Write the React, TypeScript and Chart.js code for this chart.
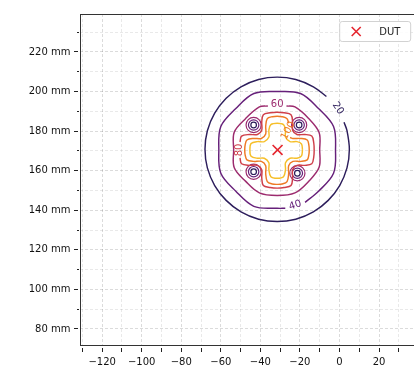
import React, { useEffect, useRef } from 'react';
import { Chart, registerables } from 'chart.js';

Chart.register(...registerables);

// ---------- axis ranges and tick labels ----------
const X_MIN = -131.2;
const X_MAX = 39.3;
const Y_MIN = 71.4;
const Y_MAX = 239.2;
const X_LABEL_VALUES = [-120, -100, -80, -60, -40, -20, 0, 20];
const Y_LABEL_VALUES = [80, 100, 120, 140, 160, 180, 200, 220];

// ---------- DUT position ----------
const DUT_POS = [[-31.3, 170.5]];

// ---------- contour lines (x mm, y mm) ----------
const CONTOUR_20 = [
  [-6.6, 197.5], [-13.2, 202.4], [-22.1, 206.1], [-31.5, 207.3], [-40.9, 206.1],
  [-49.8, 202.4], [-57.3, 196.6], [-63.1, 189.1], [-66.8, 180.2], [-68, 170.8],
  [-66.8, 161.4], [-63.1, 152.5], [-57.3, 145], [-49.8, 139.2], [-40.9, 135.5],
  [-31.5, 134.3], [-22.1, 135.5], [-13.2, 139.2], [-5.7, 145], [0.1, 152.5],
  [3.8, 161.4], [5, 170.8], [3.8, 180.2], [2.3, 184.5],
];
const CONTOUR_40 = [
  [-17.4, 144], [-10.6, 149.6], [-3, 158.7], [-2, 170.5], [-3, 182.3],
  [-10.6, 191.4], [-19.7, 199], [-31.5, 200], [-43.3, 199], [-52.4, 191.4],
  [-60, 182.3], [-61, 170.5], [-60, 158.7], [-52.4, 149.6], [-43.3, 142],
  [-31.5, 141], [-27.4, 141],
];
const CONTOUR_60 = [
  [-36.2, 192.7], [-40.5, 192.2], [-47.4, 186.4], [-53.2, 179.5], [-53.5, 170.5],
  [-53.2, 161.5], [-47.4, 154.6], [-40.5, 148.8], [-31.5, 147.5], [-22.5, 148.8],
  [-15.6, 154.6], [-10.3, 161.7], [-10, 170.5], [-10.3, 179.3], [-15.6, 186.4],
  [-22.5, 192.2], [-26.8, 192.7],
];
const CONTOUR_80 = [
  [-50.3, 166.5], [-49.5, 163.5], [-45.5, 162.7], [-41.5, 162.7], [-39.3, 160.5],
  [-39.3, 156.5], [-38.5, 152.5], [-35, 151.5], [-31.5, 151.2], [-28, 151.5],
  [-24.5, 152.5], [-23.7, 156.5], [-23.7, 160.5], [-21.5, 162.7], [-17.5, 162.7],
  [-14, 163.5], [-13, 167], [-12.8, 170.5], [-13, 174], [-14, 177.5],
  [-17.5, 178.3], [-21.5, 178.3], [-23.7, 180.5], [-23.7, 184.5], [-24.5, 188.3],
  [-28, 189.3], [-31.5, 189.5], [-35, 189.3], [-38.5, 188.3], [-39.3, 184.5],
  [-39.3, 180.5], [-41.5, 178.3], [-45.5, 178.3], [-49.5, 177.5], [-50.3, 174.5],
];
const CONTOUR_100 = [
  [-25.7, 184], [-26.5, 186.3], [-29, 187.3], [-31.5, 187.5], [-34, 187.3],
  [-36.5, 186.3], [-37.3, 182.5], [-37.3, 178.5], [-39.5, 176.3], [-43.5, 176.3],
  [-46.8, 175.5], [-47.7, 173], [-47.9, 170.5], [-47.7, 168], [-46.8, 165.5],
  [-43.5, 164.7], [-39.5, 164.7], [-37.3, 162.5], [-37.3, 158.5], [-36.5, 154.5],
  [-34, 153.3], [-31.5, 153.1], [-29, 153.3], [-26.5, 154.5], [-25.7, 158.5],
  [-25.7, 162.5], [-23.5, 164.7], [-19.5, 164.7], [-16.3, 165.5], [-15.5, 168],
  [-15.3, 170.5], [-15.5, 173], [-16.3, 175.5], [-19.5, 176.3], [-23.5, 176.3],
  [-25, 176.8],
];
const CONTOUR_120 = [
  [-18.7, 170.5], [-19.2, 173.5], [-21.5, 174.7], [-25, 174.7], [-27.3, 177],
  [-27.3, 180.5], [-28.3, 183.3], [-31.5, 184], [-34.7, 183.3], [-35.7, 180.5],
  [-35.7, 177], [-38, 174.7], [-41.5, 174.7], [-44.7, 173.7], [-45.3, 170.5],
  [-44.7, 167.3], [-41.5, 166.3], [-38, 166.3], [-35.7, 164], [-35.7, 160.5],
  [-34.7, 157], [-31.5, 156.2], [-28.3, 157], [-27.3, 160.5], [-27.3, 164],
  [-25, 166.3], [-21.5, 166.3], [-19.2, 167.5], [-18.7, 170.5],
];
// four local minima (holes) around the DUT, each ringed by small 20/40/60 contours
const HOLE_CENTERS = [
  [-43.4, 183.1], [-20.4, 183.1], [-43.4, 159.5], [-21.3, 158.7],
];

// ---------- contour labels ----------
const LABEL_TEXT = ['20', '40', '60', '80', '100'];
const LABEL_X = [-0.8, -22.4, -31.5, -50.6, -25.9];
const LABEL_Y = [191.5, 142.5, 193.3, 170.5, 180.3];

// ---------- styles ----------
const C20 = '#2d1e5c';
const C40 = '#66207a';
const C60 = '#9c2b6e';
const C80 = '#cf3f4a';
const C100 = '#ee7a25';
const C120 = '#f6bf2a';
const LABEL_COLORS = [C20, C40, C60, C80, C100];
const LABEL_ROT = [56, -18, 0, -90, -62];
const FONT = 'DejaVu Sans';

const pts = (a: number[][]) => a.map(([x, y]) => ({ x, y }));

const lineDs = (data: number[][], color: string) => ({
  data: pts(data),
  showLine: true,
  borderColor: color,
  backgroundColor: color,
  borderWidth: 1.45,
  pointRadius: 0,
  pointHoverRadius: 0,
  tension: 0.35,
  fill: false,
});

const ringDs = (color: string, r: number) => ({
  data: pts(HOLE_CENTERS),
  showLine: false,
  pointStyle: 'circle',
  pointRadius: r,
  pointHoverRadius: r,
  pointBackgroundColor: 'rgba(0,0,0,0)',
  pointBorderColor: color,
  pointBorderWidth: 1.2,
});

const fmtX = (v: number) => (v < 0 ? '\u2212' + Math.abs(v) : String(v));

const isMajor = (ctx: any) => ctx.tick && Math.abs(ctx.tick.value % 20) < 1e-6;
const gridColor = (ctx: any) => (isMajor(ctx) ? 'rgba(0,0,0,0.18)' : 'rgba(0,0,0,0.11)');

const labelPlugin = {
  id: 'contourLabels',
  afterDatasetsDraw(chart: any) {
    const { ctx, scales } = chart;
    ctx.save();
    ctx.font = `10px "${FONT}"`;
    ctx.textAlign = 'center';
    ctx.textBaseline = 'middle';
    LABEL_TEXT.forEach((t, i) => {
      const px = scales.x.getPixelForValue(LABEL_X[i]);
      const py = scales.y.getPixelForValue(LABEL_Y[i]);
      ctx.save();
      ctx.translate(px, py);
      ctx.rotate((LABEL_ROT[i] * Math.PI) / 180);
      ctx.fillStyle = LABEL_COLORS[i];
      ctx.fillText(t, 0, 0);
      ctx.restore();
    });
    ctx.restore();
  },
};

const framePlugin = {
  id: 'frame',
  afterDraw(chart: any) {
    const { ctx, chartArea: a } = chart;
    ctx.save();
    ctx.strokeStyle = '#333';
    ctx.lineWidth = 1;
    ctx.strokeRect(a.left + 0.5, a.top + 0.5, a.right - a.left, a.bottom - a.top - 1);
    // legend
    const x0 = a.right - 77.5;
    const y0 = a.top + 7.5;
    const w = 71;
    const h = 20;
    const r = 2.5;
    ctx.beginPath();
    ctx.moveTo(x0 + r, y0);
    ctx.lineTo(x0 + w - r, y0);
    ctx.arcTo(x0 + w, y0, x0 + w, y0 + r, r);
    ctx.lineTo(x0 + w, y0 + h - r);
    ctx.arcTo(x0 + w, y0 + h, x0 + w - r, y0 + h, r);
    ctx.lineTo(x0 + r, y0 + h);
    ctx.arcTo(x0, y0 + h, x0, y0 + h - r, r);
    ctx.lineTo(x0, y0 + r);
    ctx.arcTo(x0, y0, x0 + r, y0, r);
    ctx.closePath();
    ctx.fillStyle = 'rgba(255,255,255,0.85)';
    ctx.fill();
    ctx.strokeStyle = '#d2d2d2';
    ctx.stroke();
    const cx = x0 + 16.5;
    const cy = y0 + 10;
    ctx.strokeStyle = '#e5262f';
    ctx.lineWidth = 1.6;
    ctx.beginPath();
    ctx.moveTo(cx - 4.5, cy - 4.5);
    ctx.lineTo(cx + 4.5, cy + 4.5);
    ctx.moveTo(cx + 4.5, cy - 4.5);
    ctx.lineTo(cx - 4.5, cy + 4.5);
    ctx.stroke();
    ctx.fillStyle = '#222';
    ctx.font = `10px "${FONT}"`;
    ctx.textAlign = 'left';
    ctx.textBaseline = 'middle';
    ctx.fillText('DUT', x0 + 39.5, cy + 0.5);
    ctx.restore();
  },
};

export default function App() {
  const ref = useRef<HTMLCanvasElement>(null);
  useEffect(() => {
    if (!ref.current) return;
    const chart = new Chart(ref.current, {
      type: 'scatter',
      data: {
        datasets: [
          {
            label: 'DUT',
            data: pts(DUT_POS),
            pointStyle: 'crossRot',
            pointRadius: 7,
            pointHoverRadius: 7,
            pointBorderColor: '#e5262f',
            pointBackgroundColor: '#e5262f',
            pointBorderWidth: 1.6,
            showLine: false,
          } as any,
          lineDs(CONTOUR_120, C120),
          lineDs(CONTOUR_100, C100),
          lineDs(CONTOUR_80, C80),
          lineDs(CONTOUR_60, C60),
          lineDs(CONTOUR_40, C40),
          lineDs(CONTOUR_20, C20),
          ringDs(C20, 2.8),
          ringDs(C40, 5.2),
          ringDs(C60, 7.6),
        ] as any,
      },
      options: {
        responsive: false,
        animation: false,
        events: [],
        layout: { padding: { left: 0, top: 14, right: 0, bottom: 0 } },
        plugins: { legend: { display: false }, tooltip: { enabled: false } },
        scales: {
          x: {
            type: 'linear',
            position: 'bottom',
            min: X_MIN,
            max: X_MAX,
            afterFit: (s: any) => {
              s.height = 25;
            },
            grid: {
              color: gridColor,
              lineWidth: 0.8,
              tickLength: 6,
              tickColor: '#222',
              tickWidth: 1,
              tickBorderDash: [0, 2, 4, 20],
            },
            border: { display: false, dash: [3, 2] },
            ticks: {
              stepSize: 10,
              maxTicksLimit: 100,
              autoSkip: false,
              includeBounds: false,
              maxRotation: 0,
              minRotation: 0,
              padding: 4,
              color: '#111',
              font: { size: 10, family: FONT },
              callback: (v: any) => (X_LABEL_VALUES.includes(Number(v)) ? fmtX(Number(v)) : ''),
            },
          },
          y: {
            type: 'linear',
            position: 'left',
            min: Y_MIN,
            max: Y_MAX,
            afterFit: (s: any) => {
              s.width = 80;
            },
            grid: {
              color: gridColor,
              lineWidth: 0.8,
              tickLength: 6,
              tickColor: '#222',
              tickWidth: 1,
              tickBorderDash: (ctx: any) => (isMajor(ctx) ? [4, 20] : [0, 3, 2, 20]),
            },
            border: { display: false, dash: [3, 2] },
            ticks: {
              stepSize: 10,
              maxTicksLimit: 100,
              autoSkip: false,
              includeBounds: false,
              padding: 3.5,
              color: '#111',
              font: { size: 10, family: FONT },
              callback: (v: any) => (Y_LABEL_VALUES.includes(Number(v)) ? `${v} mm` : ''),
            },
          },
        },
      } as any,
      plugins: [labelPlugin, framePlugin],
    });
    return () => chart.destroy();
  }, []);
  return (
    <div
      style={{
        position: 'absolute',
        left: 0,
        top: 0,
        width: 414,
        height: 371,
        overflow: 'hidden',
        background: '#fff',
      }}
    >
      <canvas ref={ref} width={426} height={371} style={{ display: 'block' }} />
    </div>
  );
}
